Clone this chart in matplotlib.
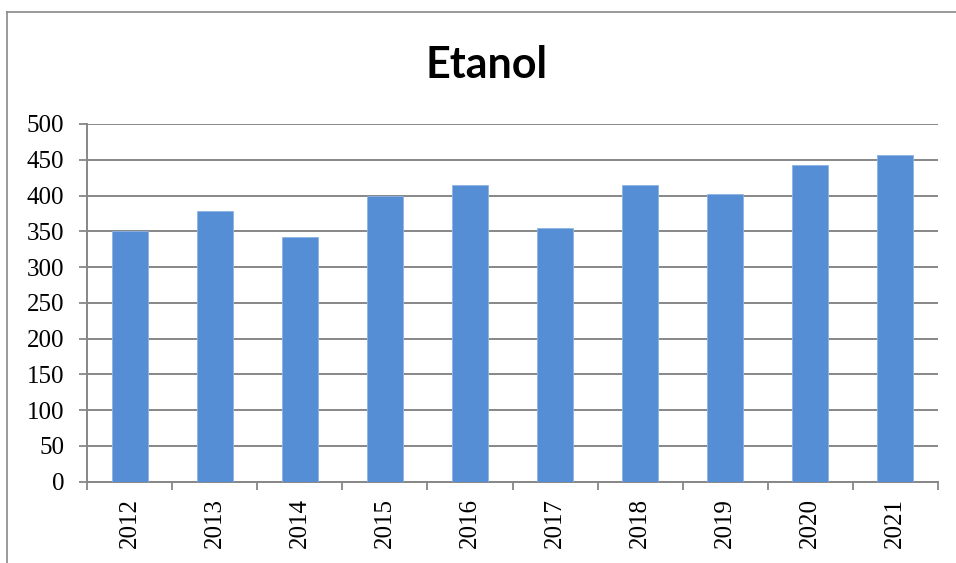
import matplotlib
matplotlib.use('Agg')
import matplotlib.pyplot as plt
from matplotlib.lines import Line2D
import numpy as np

years = ['2012', '2013', '2014', '2015', '2016', '2017', '2018', '2019', '2020', '2021']
values = [350, 379, 342, 400, 415, 355, 415, 402, 443, 456]
title = 'Etanol'

bar_color = '#558ED5'
grid_color = '#878787'

fig = plt.figure(figsize=(9.56, 5.63), dpi=100)
ax = fig.add_axes([87.3 / 956, 1 - 481.7 / 563, (937.7 - 87.3) / 956, (481.7 - 124) / 563])

x = np.arange(len(years))
ax.bar(x, values, width=0.42, color=bar_color, edgecolor='#8EB4E3', linewidth=0.6, zorder=3)

ax.set_xlim(-0.5, len(years) - 0.5)
ax.set_ylim(0, 500)
ax.set_yticks(np.arange(0, 501, 50))
ax.yaxis.grid(True, color=grid_color, linewidth=1.4, zorder=0)
ax.set_axisbelow(True)

ax.set_xticks(x)
ax.set_xticklabels(years, rotation=90, fontfamily='Liberation Serif', fontsize=18)
ax.set_xticks(np.arange(-0.5, len(years)), minor=True)
ax.tick_params(axis='x', which='major', length=0, pad=12)
ax.tick_params(axis='x', which='minor', length=5.5, width=1.3, color=grid_color)
ax.tick_params(axis='y', length=5.5, width=1.3, color=grid_color, pad=11,
               labelsize=18)
for lab in ax.get_yticklabels():
    lab.set_fontfamily('Liberation Serif')

for side in ['top', 'right']:
    ax.spines[side].set_visible(False)
for side in ['left', 'bottom']:
    ax.spines[side].set_color(grid_color)
    ax.spines[side].set_linewidth(1.4)

# outer chart border (left and top visible)
fig.add_artist(Line2D([7 / 956, 7 / 956], [0, 1 - 12 / 563], transform=fig.transFigure,
                      color='#898989', linewidth=1.2))
fig.add_artist(Line2D([7 / 956, 1], [1 - 12 / 563, 1 - 12 / 563], transform=fig.transFigure,
                      color='#898989', linewidth=1.2))

fig.text(487 / 956, 1 - 78 / 563, title, ha='center', va='baseline',
         fontfamily='Lato', fontweight='bold', fontsize=31)

fig.savefig('out.png', dpi=100)
